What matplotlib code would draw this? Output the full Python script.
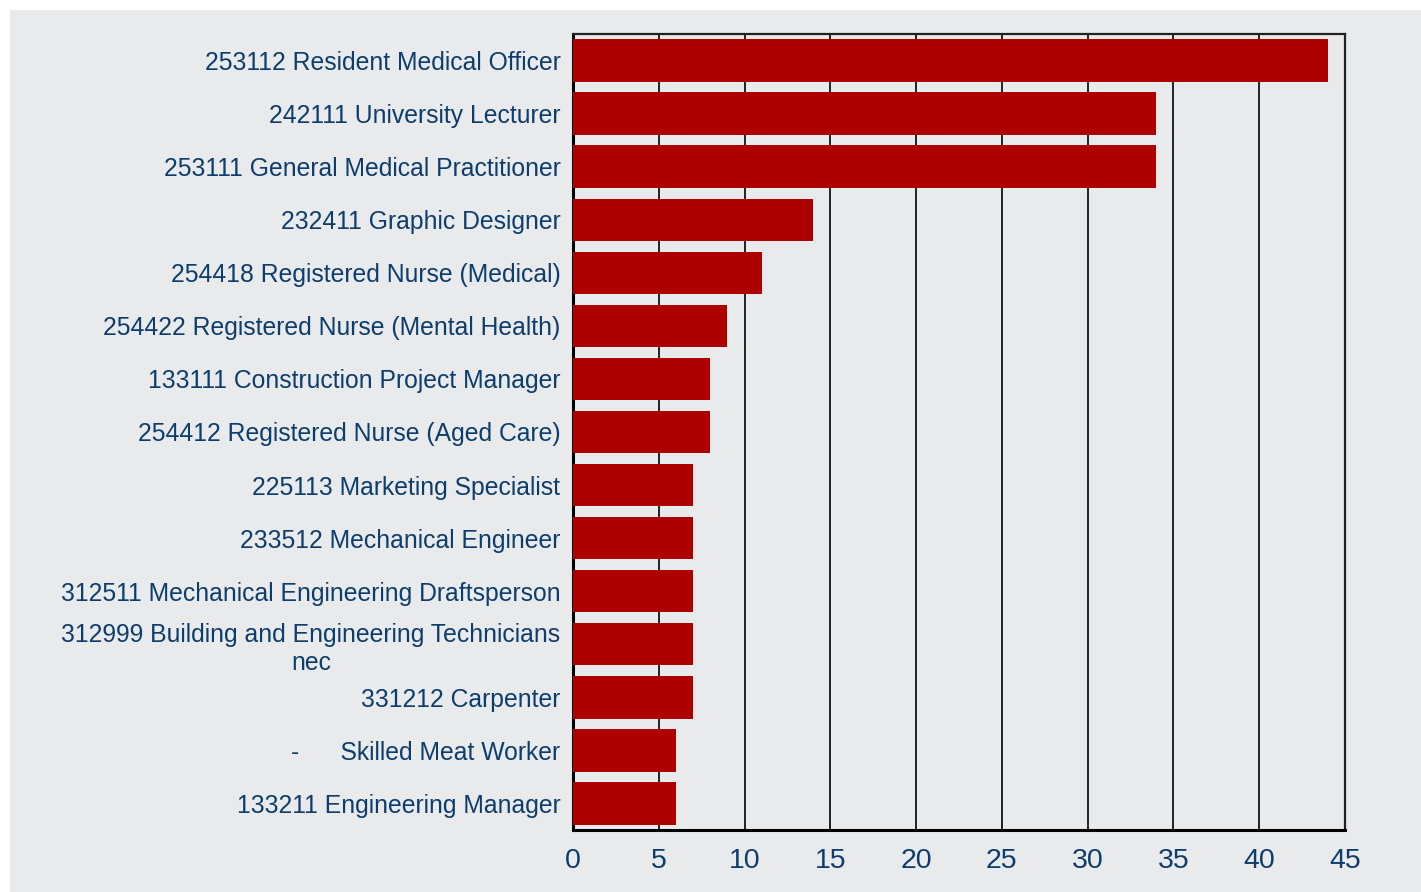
import matplotlib
matplotlib.use("Agg")
import matplotlib.pyplot as plt
from matplotlib.patches import Rectangle

categories = [
    "253112 Resident Medical Officer",
    "242111 University Lecturer",
    "253111 General Medical Practitioner",
    "232411 Graphic Designer",
    "254418 Registered Nurse (Medical)",
    "254422 Registered Nurse (Mental Health)",
    "133111 Construction Project Manager",
    "254412 Registered Nurse (Aged Care)",
    "225113 Marketing Specialist",
    "233512 Mechanical Engineer",
    "312511 Mechanical Engineering Draftsperson",
    "312999 Building and Engineering Technicians\nnec",
    "331212 Carpenter",
    "-      Skilled Meat Worker",
    "133211 Engineering Manager",
]
values = [44, 34, 34, 14, 11, 9, 8, 8, 7, 7, 7, 7, 7, 6, 6]
x_ticks = [0, 5, 10, 15, 20, 25, 30, 35, 40, 45]

plt.rcParams['font.family'] = ['Liberation Sans', 'DejaVu Sans']

W, H = 1421, 892
fig = plt.figure(figsize=(W / 100, H / 100), dpi=100)
fig.patch.set_facecolor('white')
bg = '#e9eaec'
fig.patches.append(Rectangle((10 / W, 0), 1 - 10 / W, 1 - 10 / H,
                             transform=fig.transFigure, facecolor=bg,
                             edgecolor='none', zorder=-10))

ax = fig.add_axes([573 / W, 1 - 830 / H, (1345 - 573) / W, (830 - 34) / H])
ax.set_facecolor(bg)

ypos = list(range(len(categories)))
ax.barh(ypos, values, height=0.8, color='#ad0000', zorder=3)

ax.set_xlim(0, 45)
ax.set_ylim(len(categories) - 0.5, -0.5)
ax.set_xticks(x_ticks)
ax.set_yticks(ypos)
ax.set_yticklabels(categories)

txt_color = '#0d3d6c'
ax.tick_params(axis='x', length=0, pad=13, labelsize=20.5, labelcolor=txt_color)
ax.tick_params(axis='y', length=0, pad=9, labelsize=17.8, labelcolor=txt_color)
for lbl in ax.get_yticklabels():
    lbl.set_multialignment('center')

ax.grid(axis='x', color='black', linewidth=1.2, zorder=1)
ax.grid(axis='y', visible=False)
ax.set_axisbelow(True)

for side in ['left', 'bottom']:
    ax.spines[side].set_linewidth(2.2)
    ax.spines[side].set_color('black')
for side in ['top', 'right']:
    ax.spines[side].set_linewidth(1.6)
    ax.spines[side].set_color('#222222')

fig.savefig('out.png', dpi=100, facecolor='white')
